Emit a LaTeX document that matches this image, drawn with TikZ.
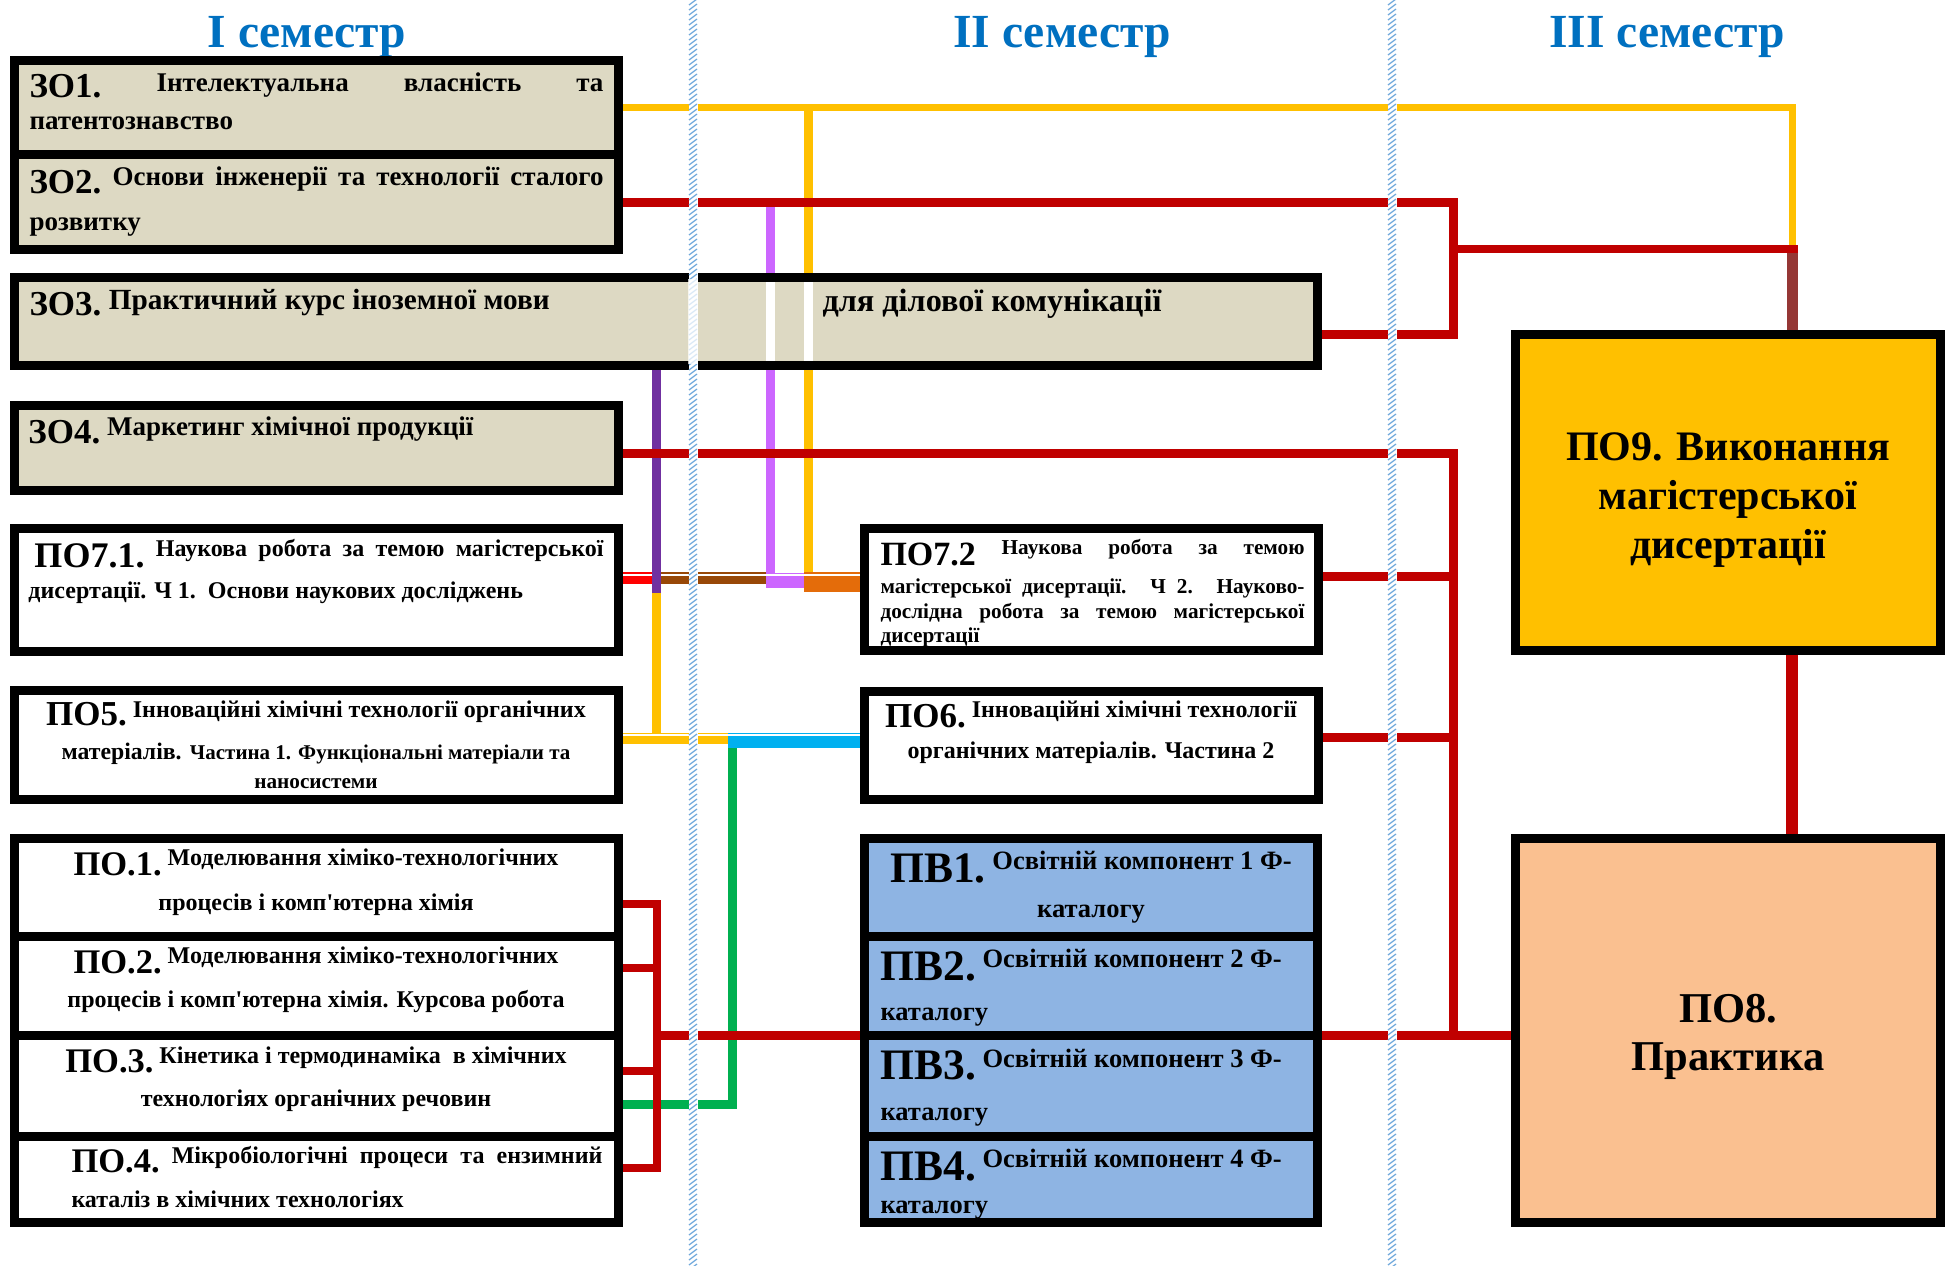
\documentclass[tikz,border=0pt]{standalone}
\usepackage{fontspec}
\setmainfont{Liberation Serif}
\usetikzlibrary{calc}
\definecolor{semblue}{HTML}{0070C0}
\definecolor{beige}{HTML}{DDD9C3}
\definecolor{pvblue}{HTML}{8EB4E3}
\definecolor{poA}{HTML}{FFC000}
\definecolor{poB}{HTML}{FAC090}
\definecolor{yel}{HTML}{FFC000}
\definecolor{redA}{HTML}{C00000}
\definecolor{redB}{HTML}{FF0000}
\definecolor{brnA}{HTML}{953735}
\definecolor{brnB}{HTML}{984807}
\definecolor{viol}{HTML}{CC66FF}
\definecolor{purp}{HTML}{7030A0}
\definecolor{orng}{HTML}{E46C0A}
\definecolor{cyanA}{HTML}{00B0F0}
\definecolor{grn}{HTML}{00B050}
\definecolor{sepc}{HTML}{6FA8DC}
\newcommand\lb[3]{\raisebox{-#2}{\fontsize{#1}{#1}\selectfont #3}}
\newcommand\fsz[1]{\fontsize{#1}{#1}\selectfont}
\newcommand\bx[6]{\node[boxst, fill=#6, minimum width={(#4-#2-9)*0.4pt}, minimum height={(#5-#3-9)*0.4pt}] (#1) at ({(#2+#4)/2},{(#3+#5)/2}) {};}
\tikzset{
  boxst/.style={draw=black, line width=3.6pt, inner sep=0pt, rectangle},
  conn/.style={line width=3.6pt},
  txt/.style={inner sep=0pt, anchor=base west, font=\bfseries},
  txtc/.style={inner sep=0pt, anchor=base, font=\bfseries},
  sem/.style={inner sep=0pt, anchor=base, font=\bfseries\fontsize{19pt}{19pt}\selectfont, text=semblue},
}
\begin{document}
\begin{tikzpicture}[x=0.4pt,y=-0.4pt]
\useasboundingbox (0,0) rectangle (1947,1266);
\fill[white] (0,0) rectangle (1947,1266);

% semester titles
\node[sem] (s1) at (307,47) {I семестр};
\node[sem] (s2) at (1062,47) {II семестр};
\node[sem] (s3) at (1667,47) {III семестр};

% invisible reference boxes first (for names), drawn later
\begin{scope}[opacity=0]
\bx{z1}{10}{56}{623}{159}{beige}
\bx{z2}{10}{150}{623}{254}{beige}
\bx{z3}{10}{273}{1322}{370}{beige}
\bx{z4}{10}{401}{623}{495}{beige}
\bx{p71}{10}{524}{623}{656}{white}
\bx{p5}{10}{686}{623}{804}{white}
\bx{p1}{10}{834}{623}{941}{white}
\bx{p2}{10}{932}{623}{1040}{white}
\bx{p3}{10}{1031}{623}{1141}{white}
\bx{p4}{10}{1132}{623}{1227}{white}
\bx{p72}{860}{524}{1323}{655}{white}
\bx{p6}{860}{687}{1323}{804}{white}
\bx{v1}{860}{834}{1322}{941}{pvblue}
\bx{v2}{860}{932}{1322}{1040}{pvblue}
\bx{v3}{860}{1031}{1322}{1141}{pvblue}
\bx{v4}{860}{1132}{1322}{1227}{pvblue}
\bx{p9}{1511}{330}{1945}{655}{poA}
\bx{p8}{1511}{834}{1945}{1227}{poB}
\end{scope}

\coordinate (jy) at (1792.5,249);
\coordinate (jr) at (1797.5,249);

% vertical connectors (under the horizontals)
\draw[conn,yel] (z1.east -| 808.5,0) -- (808.5,574);
\draw[conn,viol] (770.5,203) -- (770.5,574);
\draw[conn,purp] (z3.south -| 656.5,0) -- (656.5,593);
\draw[conn,yel] (656.5,593) -- (656.5,734);
\draw[conn,grn] (732.5,746) |- (p3.east |- 0,1104.5);

% yellow from ZO1
\draw[line width=3pt,yel] (z1.east) -| (jy);
% red network
\draw[conn,redA] (z2.east) -| (1453.5,334) -- (z3.east |- 0,334);
\draw[line width=3.2pt,redA] (1453.5,249) -- (jr);
\draw[line width=4.4pt,brnA] (1792.5,253) -- (p9.north -| 1792.5,0);
\draw[conn,redA] (z4.east |- 0,453) -| (1453.5,1035.5) -- (p8.west |- 0,1035.5);
\draw[conn,redA] (p72.east |- 0,576) -- (1453.5,576);
\draw[conn,redA] (p6.east |- 0,737.5) -- (1453.5,737.5);
\draw[conn,redA] (v2.east |- 0,1035.5) -- (1453.5,1035.5);
\draw[line width=4.8pt,redA] (p9.south -| 1792,0) -- (p8.north -| 1792,0);
% bracket of PO.1-PO.4
\draw[line width=3.2pt,redA] (p1.east |- 0,903.5) -| (657,1168) -- (p4.east |- 0,1168);
\draw[line width=3.2pt,redA] (p2.east |- 0,968) -- (657,968);
\draw[line width=3.2pt,redA] (p3.east |- 0,1071) -- (657,1071);
\draw[conn,redA] (657,1035.5) -- (v2.west |- 0,1035.5);

% PO7.1 composite line
\draw[line width=4.8pt,redB] (p71.east |- 0,578) -- (652,578);
\draw[line width=4.8pt,brnB] (661,578) -- (766,578);
\draw[line width=6pt,viol] (766,580.5) -- (804,580.5);
\draw[line width=8pt,orng] (804,582) -- (p72.west |- 0,582);
\draw[white,line width=0.8pt] (618,575) -- (652,575) (661,575) -- (860,575);
% PO5 composite line
\draw[line width=4.4pt,yel] (p5.east |- 0,738.5) -- (728,738.5);
\draw[line width=6pt,cyanA] (728,740.5) -- (p6.west |- 0,740.5);
\draw[white,line width=0.8pt] (618,735) -- (860,735);

% boxes
\bx{b1}{10}{56}{623}{159}{beige}
\bx{b2}{10}{150}{623}{254}{beige}
\bx{b3}{10}{273}{1322}{370}{beige}
\bx{b4}{10}{401}{623}{495}{beige}
\bx{b71}{10}{524}{623}{656}{white}
\bx{b5}{10}{686}{623}{804}{white}
\bx{bp1}{10}{834}{623}{941}{white}
\bx{bp2}{10}{932}{623}{1040}{white}
\bx{bp3}{10}{1031}{623}{1141}{white}
\bx{bp4}{10}{1132}{623}{1227}{white}
\bx{b72}{860}{524}{1323}{655}{white}
\bx{b6}{860}{687}{1323}{804}{white}
\bx{bv1}{860}{834}{1322}{941}{pvblue}
\bx{bv2}{860}{932}{1322}{1040}{pvblue}
\bx{bv3}{860}{1031}{1322}{1141}{pvblue}
\bx{bv4}{860}{1132}{1322}{1227}{pvblue}
\bx{b9}{1511}{330}{1945}{655}{poA}
\bx{b8}{1511}{834}{1945}{1227}{poB}

% lines crossing ZO3 shown as white stripes
\fill[white] (766,282) rectangle (775,361);
\fill[white] (804,282) rectangle (813,361);

% semester separators
\foreach \sx in {693,1392}{
  \fill[white] (\sx-4.5,0) rectangle (\sx+4.5,1266);
  \foreach \yy in {0,5,...,1265}{
    \draw[sepc,line width=0.5pt] (\sx-4,\yy+5) -- (\sx+4,\yy-1);
  }
}
\fill[white,opacity=0.75] (688,279) rectangle (698,364);

% texts
\node[txt] (t1a) at (29,91) {\fsz{10.8pt}\makebox[229.6pt][s]{\lb{14pt}{2.4pt}{ЗО1.} Інтелектуальна власність та}};
\node[txt] (t1b) at (29,129) {\fsz{10.8pt}патентознавство};
\node[txt] (t2a) at (29,185) {\fsz{10.8pt}\makebox[229.6pt][s]{\lb{14pt}{3.2pt}{ЗО2.} Основи інженерії та технології сталого}};
\node[txt] (t2b) at (29,230) {\fsz{10.8pt}розвитку};
\node[txt] (t3a) at (29,309) {\fsz{11.7pt}\lb{14pt}{2.6pt}{ЗО3.} Практичний курс іноземної мови};
\node[txt] (t3b) at (822,311) {\fsz{12.9pt}для ділової комунікації};
\node[txt] (t4a) at (28,435) {\fsz{10.8pt}\lb{14pt}{3.2pt}{ЗО4.} Маркетинг хімічної продукції};

\node[txt] (t71a) at (34,556) {\fsz{9.6pt}\makebox[227.6pt][s]{\lb{14.4pt}{4.4pt}{ПО7.1.} Наукова робота за темою магістерської}};
\node[txt] (t71b) at (28,598) {\fsz{9.6pt}дисертації. Ч 1.\ \ Основи наукових досліджень};

\node[txtc] (t5a) at (316,717) {\fsz{9.6pt}\lb{14pt}{3.2pt}{ПО5.} Інноваційні хімічні технології органічних};
\node[txtc] (t5b) at (316,759) {{\fsz{9.5pt}матеріалів.} {\fsz{8.4pt}Частина 1. Функціональні матеріали та}};
\node[txtc] (t5c) at (316,788) {\fsz{8.5pt}наносистеми};

\node[txtc] (tp1a) at (316,865) {\fsz{9.6pt}\lb{13.8pt}{4pt}{ПО.1.} Моделювання хіміко-технологічних};
\node[txtc] (tp1b) at (316,910) {\fsz{9.6pt}процесів і комп\textquotesingle ютерна хімія};
\node[txtc] (tp2a) at (316,963) {\fsz{9.6pt}\lb{13.8pt}{4pt}{ПО.2.} Моделювання хіміко-технологічних};
\node[txtc] (tp2b) at (316,1007) {\fsz{9.6pt}процесів і комп\textquotesingle ютерна хімія. Курсова робота};
\node[txtc] (tp3a) at (316,1063) {\fsz{9.6pt}\lb{13.8pt}{3.6pt}{ПО.3.} Кінетика і термодинаміка\ \ в хімічних};
\node[txtc] (tp3b) at (316,1106) {\fsz{9.6pt}технологіях органічних речовин};
\node[txt] (tp4a) at (71,1163) {\fsz{9.6pt}\makebox[212.4pt][s]{\lb{13.8pt}{3.6pt}{ПО.4.} Мікробіологічні процеси та ензимний}};
\node[txt] (tp4b) at (71,1207) {\fsz{9.6pt}каталіз в хімічних технологіях};

\node[txt] (t72a) at (880,554) {\fsz{8.5pt}\makebox[169.6pt][s]{\lb{13.6pt}{4.4pt}{ПО7.2} Наукова робота за темою}};
\node[txt] (t72b) at (880,593) {\fsz{8.5pt}\makebox[169.6pt][s]{магістерської дисертації. Ч 2. Науково-}};
\node[txt] (t72c) at (880,618) {\fsz{8.5pt}\makebox[169.6pt][s]{дослідна робота за темою магістерської}};
\node[txt] (t72d) at (880,642) {\fsz{8.5pt}дисертації};

\node[txtc] (t6a) at (1091,717) {\fsz{9.6pt}\lb{14pt}{4pt}{ПО6.} Інноваційні хімічні технології};
\node[txtc] (t6b) at (1091,758) {\fsz{9.6pt}органічних матеріалів. Частина 2};

\node[txtc] (tv1a) at (1091,869) {\fsz{10.6pt}\lb{17.4pt}{5.2pt}{ПВ1.} Освітній компонент 1 Ф-};
\node[txtc] (tv1b) at (1091,917) {\fsz{10.6pt}каталогу};
\node[txt] (tv2a) at (880,967) {\fsz{10.6pt}\lb{17.4pt}{5.2pt}{ПВ2.} Освітній компонент 2 Ф-};
\node[txt] (tv2b) at (880,1020) {\fsz{10.6pt}каталогу};
\node[txt] (tv3a) at (880,1067) {\fsz{10.6pt}\lb{17.4pt}{5pt}{ПВ3.} Освітній компонент 3 Ф-};
\node[txt] (tv3b) at (880,1120) {\fsz{10.6pt}каталогу};
\node[txt] (tv4a) at (880,1167) {\fsz{10.6pt}\lb{17.4pt}{5.2pt}{ПВ4.} Освітній компонент 4 Ф-};
\node[txt] (tv4b) at (880,1213) {\fsz{10.6pt}каталогу};

\node[txtc] (t9a) at (1728,460) {\fsz{16.8pt}ПО9. Виконання};
\node[txtc] (t9b) at (1728,509) {\fsz{16.8pt}магістерської};
\node[txtc] (t9c) at (1728,558) {\fsz{16.8pt}дисертації};
\node[txtc] (t8a) at (1728,1022) {\fsz{17pt}ПО8.};
\node[txtc] (t8b) at (1728,1070) {\fsz{17pt}Практика};
\end{tikzpicture}
\end{document}
